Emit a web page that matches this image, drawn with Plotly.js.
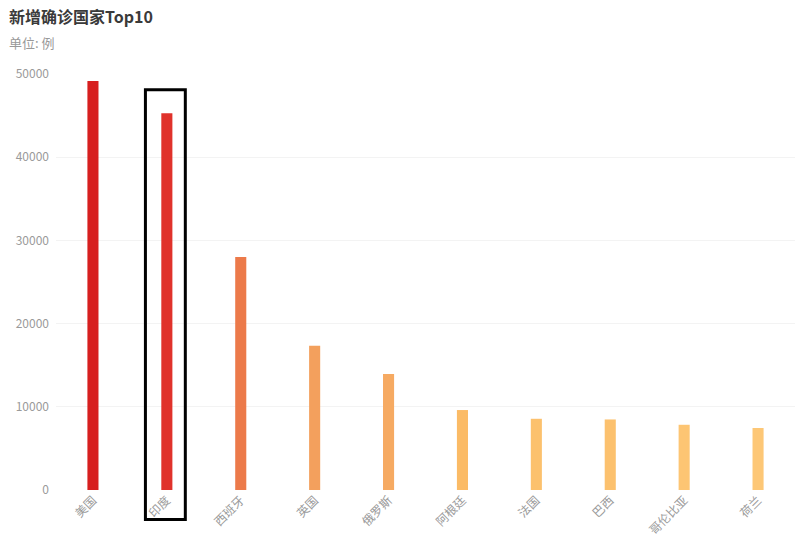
<!DOCTYPE html>
<html>
<head>
<meta charset="utf-8">
<script src="https://cdn.plot.ly/plotly-3.0.1.min.js"></script>
<style>
  html, body { margin: 0; padding: 0; background: #fff; }
  #chart { width: 803px; height: 537px; }
</style>
</head>
<body>
<div id="chart"></div>
<script>
// 国家与新增确诊人数
const countries = ['美国', '印度', '西班牙', '英国', '俄罗斯', '阿根廷', '法国', '巴西', '哥伦比亚', '荷兰'];
const newCases = [49170, 45280, 27990, 17330, 13930, 9610, 8560, 8480, 7840, 7450];
const yTicks = [0, 10000, 20000, 30000, 40000, 50000];
const highlighted = '印度';

const font = '"Noto Sans CJK SC", "Noto Sans", sans-serif';
const hi = countries.indexOf(highlighted);

const trace = {
    type: 'bar',
    x: countries,
    y: newCases,
    width: 0.15,
    marker: {
        color: newCases,
        colorscale: [
            [0, '#fdc776'],
            [0.05, '#fbbb66'],
            [0.16, '#f6a962'],
            [0.24, '#f3a05d'],
            [0.49, '#ec7a4a'],
            [0.92, '#e0302a'],
            [1, '#d71f1f']
        ],
        showscale: false
    },
    hoverinfo: 'x+y'
};

const layout = {
    width: 803,
    height: 537,
    margin: { l: 56, r: 8, t: 74, b: 47 },
    paper_bgcolor: '#fff',
    plot_bgcolor: '#fff',
    font: { family: font, size: 12, color: '#999' },
    showlegend: false,
    xaxis: {
        type: 'category',
        tickangle: -45,
        showgrid: false,
        showline: false,
        zeroline: false,
        ticks: '',
        tickfont: { family: font, size: 12, color: '#9a9a9a' }
    },
    yaxis: {
        range: [0, 50000],
        tickvals: yTicks,
        ticktext: yTicks.map(String),
        gridcolor: '#f3f3f3',
        gridwidth: 1,
        zeroline: false,
        showline: false,
        ticks: '',
        ticklabelstandoff: 6,
        tickfont: { family: font, size: 12, color: '#9a9a9a' }
    },
    annotations: [
        {
            text: '<b>新增确诊国家Top10</b>',
            xref: 'paper', yref: 'paper',
            x: -49 / 739, y: 1 + 58 / 416,
            xanchor: 'left', yanchor: 'middle',
            showarrow: false,
            font: { family: font, size: 16, color: '#3a3a3a' }
        },
        {
            text: '单位: 例',
            xref: 'paper', yref: 'paper',
            x: -49 / 739, y: 1 + 32 / 416,
            xanchor: 'left', yanchor: 'middle',
            showarrow: false,
            font: { family: font, size: 13, color: '#999' }
        }
    ],
    shapes: [
        {
            type: 'rect',
            xref: 'x', yref: 'paper',
            x0: hi - 0.29, x1: hi + 0.25,
            y0: -0.071, y1: 0.962,
            line: { color: '#000', width: 3 },
            fillcolor: 'rgba(0,0,0,0)'
        }
    ]
};

Plotly.newPlot('chart', [trace], layout, { displayModeBar: false, responsive: false });
</script>
</body>
</html>
